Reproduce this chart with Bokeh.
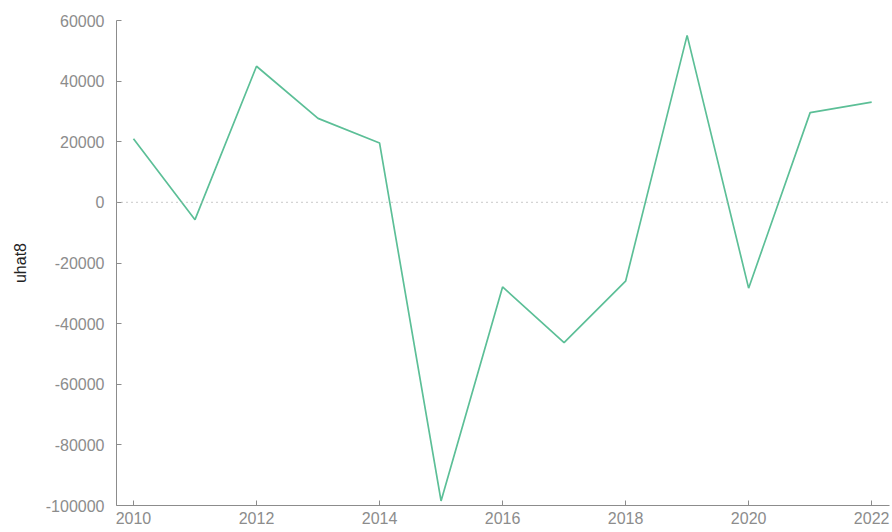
from bokeh.plotting import figure
from bokeh.models import Span, FixedTicker, Range1d
from bokeh.embed import file_html
from bokeh.resources import INLINE

years = [2010, 2011, 2012, 2013, 2014, 2015, 2016, 2017, 2018, 2019, 2020, 2021, 2022]
uhat8 = [21000, -5700, 44900, 27700, 19600, -98500, -27900, -46300, -26000, 55100, -28300, 29600, 33100]
x_ticks = [2010, 2012, 2014, 2016, 2018, 2020, 2022]
y_ticks = [-100000, -80000, -60000, -40000, -20000, 0, 20000, 40000, 60000]

FONT = "Liberation Sans"
GRAY = "#8c8c8c"

p = figure(width=892, height=532, output_backend="svg", toolbar_location=None,
           x_range=Range1d(2009.724, 2022.29), y_range=Range1d(-100000, 60000),
           min_border_left=116, min_border_right=3, min_border_top=20, min_border_bottom=27)
p.outline_line_color = None
p.grid.visible = False
p.background_fill_color = "white"
p.border_fill_color = "white"

p.line(years, uhat8, line_color="#5cbf97", line_width=1.7)
p.add_layout(Span(location=0, dimension="width", line_color="#a8a8a8", line_width=1.2, line_dash="1 4"))

for ax in (p.xaxis[0], p.yaxis[0]):
    ax.axis_line_color = GRAY
    ax.major_tick_line_color = GRAY
    ax.major_tick_in = 5
    ax.major_tick_out = 0
    ax.minor_tick_line_color = None
    ax.major_label_text_color = GRAY
    ax.major_label_text_font = FONT
    ax.major_label_text_font_size = "16px"

p.xaxis.ticker = FixedTicker(ticks=x_ticks)
p.yaxis.ticker = FixedTicker(ticks=y_ticks)
p.yaxis.major_label_overrides = {v: str(v) for v in y_ticks}
p.xaxis.major_label_standoff = 6
p.yaxis.major_label_standoff = 12
p.yaxis.axis_label = "uhat8"
p.yaxis.axis_label_text_font = FONT
p.yaxis.axis_label_text_font_style = "normal"
p.yaxis.axis_label_text_font_size = "16px"
p.yaxis.axis_label_text_color = "#222222"
p.yaxis.axis_label_standoff = 14

open("out.html", "w").write(file_html(p, INLINE))
